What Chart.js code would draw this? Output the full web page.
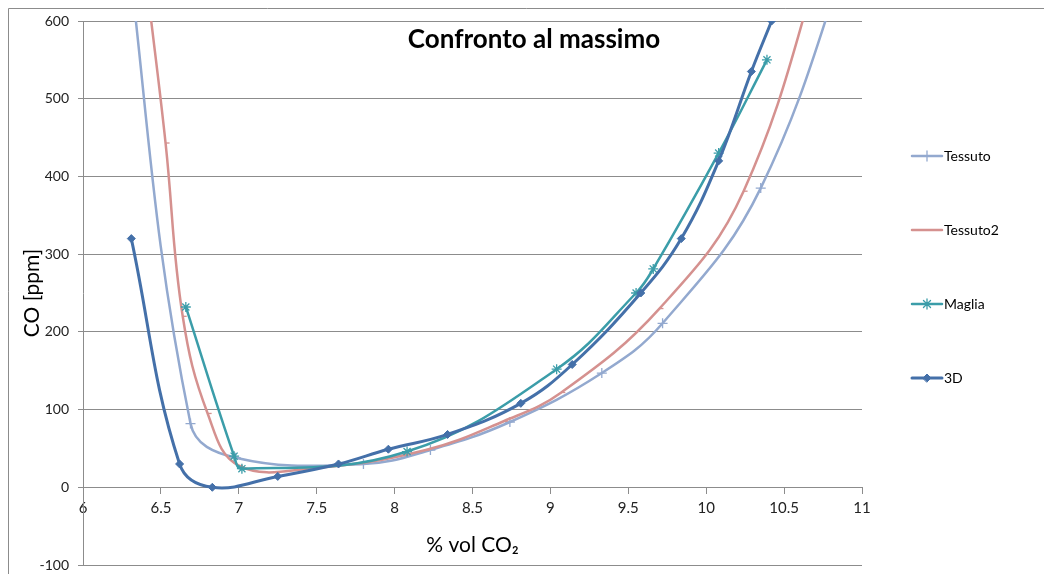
<!DOCTYPE html>
<html>
<head>
<meta charset="utf-8">
<script src="https://cdn.jsdelivr.net/npm/chart.js@4.4.1/dist/chart.umd.min.js"></script>
<style>
  html, body { margin: 0; padding: 0; background: #fff; }
  #wrap { width: 1044px; height: 574px; position: relative; }
</style>
</head>
<body>
<div id="wrap"><canvas id="c" width="1044" height="574"></canvas></div>
<script>
// Series: CO [ppm] against % vol CO2
const seriesNames = ['Tessuto', 'Tessuto2', 'Maglia', '3D'];

const tessutoX  = [6.24, 6.69, 6.98, 7.80, 8.23, 8.74, 9.33, 9.72, 10.35, 11.0];
const tessutoY  = [770, 82, 38, 30, 48, 84, 147, 211, 385, 740];

const tessuto2X = [6.42, 6.53, 6.64, 6.80, 7.00, 7.50, 8.20, 8.70, 9.07, 9.70, 10.24, 10.80];
const tessuto2Y = [630, 443, 220, 95, 28, 25, 48, 85, 122, 230, 381, 720];

const magliaX   = [6.66, 6.97, 7.02, 8.08, 9.04, 9.55, 9.66, 10.08, 10.39];
const magliaY   = [232, 40, 24, 46, 152, 250, 281, 430, 550];

const d3X = [6.31, 6.62, 6.83, 7.25, 7.64, 7.96, 8.34, 8.81, 9.14, 9.58, 9.84, 10.08, 10.29, 10.42];
const d3Y = [320, 30, 0, 14, 30, 49, 68, 108, 158, 250, 320, 420, 535, 600];

const xTickMin = 6, xTickMax = 11, xTickStep = 0.5;
const yTickMin = -100, yTickMax = 600, yTickStep = 100;

const chartTitle = 'Confronto al massimo';
const xTitle = '% vol CO\u2082';
const yTitle = 'CO [ppm]';

const toPoints = (xs, ys) => xs.map((x, i) => ({ x: x, y: ys[i] }));

const FONT = 'Lato, "Open Sans", sans-serif';

// white background and thin frame around the figure
const framePlugin = {
  id: 'frame',
  beforeDraw(chart) {
    const ctx = chart.ctx;
    ctx.save();
    ctx.fillStyle = '#ffffff';
    ctx.fillRect(0, 0, chart.width, chart.height);
    ctx.strokeStyle = '#8c8c8c';
    ctx.lineWidth = 1;
    ctx.beginPath();
    ctx.moveTo(8.5, chart.height + 2);
    ctx.lineTo(8.5, 8.5);
    ctx.lineTo(chart.width + 2, 8.5);
    ctx.stroke();
    ctx.restore();
  }
};

// chart heading drawn inside the plot area
const headingPlugin = {
  id: 'heading',
  afterDraw(chart, args, opts) {
    const ctx = chart.ctx;
    ctx.save();
    ctx.font = 'bold 26px ' + FONT;
    ctx.fillStyle = '#000';
    ctx.textAlign = 'center';
    ctx.textBaseline = 'middle';
    ctx.fillText(opts.text, opts.x, opts.y);
    ctx.restore();
  }
};

// vertical legend on the right: line sample with marker, then the label
const sideLegendPlugin = {
  id: 'sideLegend',
  afterDraw(chart, args, opts) {
    const ctx = chart.ctx;
    chart.data.datasets.forEach((ds, i) => {
      const y = opts.top + i * opts.step;
      const x0 = opts.x, x1 = opts.x + opts.lineLen;
      ctx.save();
      ctx.strokeStyle = ds.borderColor;
      ctx.lineWidth = ds.borderWidth;
      ctx.lineCap = 'round';
      ctx.beginPath();
      ctx.moveTo(x0, y);
      ctx.lineTo(x1, y);
      ctx.stroke();
      if (Chart.helpers && Chart.helpers.drawPoint && ds.pointStyle !== 'dash') {
        ctx.strokeStyle = ds.pointBorderColor;
        ctx.fillStyle = ds.pointBackgroundColor;
        ctx.lineWidth = ds.pointBorderWidth;
        Chart.helpers.drawPoint(ctx, {
          pointStyle: ds.pointStyle, rotation: 0,
          radius: ds.pointRadius, borderWidth: ds.pointBorderWidth
        }, (x0 + x1) / 2, y);
      }
      ctx.fillStyle = '#000';
      ctx.font = '14px ' + FONT;
      ctx.textAlign = 'left';
      ctx.textBaseline = 'middle';
      ctx.fillText(ds.label, x1 + 2, y);
      ctx.restore();
    });
  }
};

const colors = ['#93A9CF', '#D5918F', '#3B9DA9', '#4470A9'];
const styles = ['cross', 'dash', 'star', 'rectRot'];
const radii = [5, 4, 5, 4];
const widths = [2.5, 2.5, 2.5, 3];
const xs = [tessutoX, tessuto2X, magliaX, d3X];
const ys = [tessutoY, tessuto2Y, magliaY, d3Y];

const datasets = seriesNames.map((name, i) => ({
  label: name,
  data: toPoints(xs[i], ys[i]),
  borderColor: colors[i],
  backgroundColor: colors[i],
  borderWidth: widths[i],
  pointStyle: styles[i],
  pointRadius: radii[i],
  pointHoverRadius: radii[i],
  pointBorderColor: colors[i],
  pointBackgroundColor: colors[i],
  pointBorderWidth: i === 3 ? 1 : 1.3,
  tension: 0.4,
  fill: false,
  order: seriesNames.length - i
}));

new Chart(document.getElementById('c'), {
  type: 'line',
  data: { datasets: datasets },
  plugins: [framePlugin, headingPlugin, sideLegendPlugin],
  options: {
    responsive: false,
    animation: false,
    devicePixelRatio: 1,
    layout: { padding: { left: 0, right: 182, top: 21, bottom: 9 } },
    elements: { line: { capBezierPoints: false } },
    plugins: {
      legend: { display: false },
      tooltip: { enabled: false },
      heading: { text: chartTitle, x: 534, y: 40 },
      sideLegend: { x: 912, lineLen: 30, top: 156, step: 74 }
    },
    scales: {
      x: {
        type: 'linear',
        min: xTickMin, max: xTickMax,
        position: { y: 0 },
        ticks: {
          stepSize: xTickStep, color: '#222', font: { family: FONT, size: 15 }, padding: 6, maxRotation: 0,
          callback: (v) => String(Number(v.toFixed(1)))
        },
        grid: { drawOnChartArea: false, drawTicks: true, tickLength: 6, color: '#8c8c8c', lineWidth: 1 },
        border: { display: true, color: '#8c8c8c', width: 1 },
        title: { display: true, text: xTitle, color: '#000', font: { family: FONT, size: 21 }, padding: { top: 9, bottom: 0 } }
      },
      y: {
        type: 'linear',
        min: yTickMin, max: yTickMax,
        position: 'left',
        afterFit(scale) {
          scale.width = 83;
          scale.paddingTop = 0;
          scale.paddingBottom = 0;
        },
        ticks: { stepSize: yTickStep, color: '#222', font: { family: FONT, size: 14 }, padding: 9 },
        grid: { color: '#8c8c8c', lineWidth: 1, tickLength: 5, drawTicks: true },
        border: { display: true, color: '#8c8c8c', width: 1 },
        title: { display: true, text: yTitle, color: '#000', font: { family: FONT, size: 21 }, padding: { top: 20, bottom: 0 } }
      }
    }
  }
});
</script>
</body>
</html>
